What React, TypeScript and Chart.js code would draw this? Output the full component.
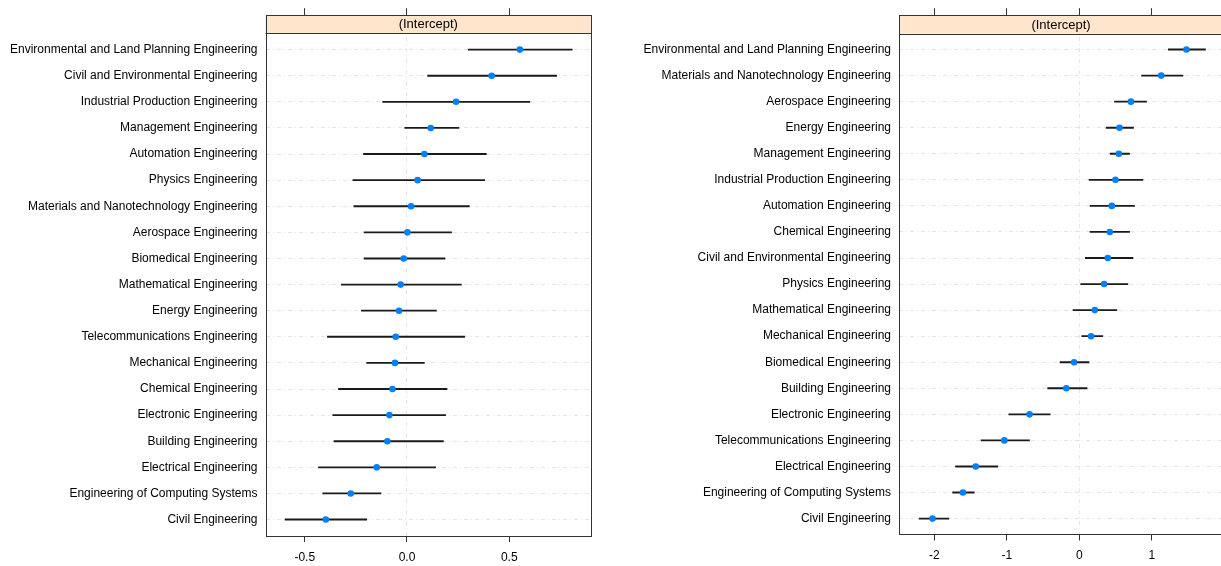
import React, { useEffect, useRef } from "react";
import { Chart, registerables } from "chart.js";

Chart.register(...registerables);

// ---------- DATA ----------
const leftCategories = [
  "Environmental and Land Planning Engineering",
  "Civil and Environmental Engineering",
  "Industrial Production Engineering",
  "Management Engineering",
  "Automation Engineering",
  "Physics Engineering",
  "Materials and Nanotechnology Engineering",
  "Aerospace Engineering",
  "Biomedical Engineering",
  "Mathematical Engineering",
  "Energy Engineering",
  "Telecommunications Engineering",
  "Mechanical Engineering",
  "Chemical Engineering",
  "Electronic Engineering",
  "Building Engineering",
  "Electrical Engineering",
  "Engineering of Computing Systems",
  "Civil Engineering",
];
const leftEstimate = [0.552, 0.414, 0.24, 0.116, 0.085, 0.052, 0.02, 0.002, -0.016, -0.031, -0.039, -0.055, -0.059, -0.071, -0.086, -0.096, -0.148, -0.275, -0.397];
const leftLower = [0.3, 0.101, -0.119, -0.011, -0.213, -0.265, -0.26, -0.21, -0.21, -0.321, -0.223, -0.389, -0.197, -0.335, -0.363, -0.357, -0.433, -0.412, -0.596];
const leftUpper = [0.808, 0.732, 0.601, 0.254, 0.388, 0.38, 0.305, 0.218, 0.186, 0.266, 0.144, 0.282, 0.085, 0.196, 0.189, 0.178, 0.14, -0.127, -0.197];

const rightCategories = [
  "Environmental and Land Planning Engineering",
  "Materials and Nanotechnology Engineering",
  "Aerospace Engineering",
  "Energy Engineering",
  "Management Engineering",
  "Industrial Production Engineering",
  "Automation Engineering",
  "Chemical Engineering",
  "Civil and Environmental Engineering",
  "Physics Engineering",
  "Mathematical Engineering",
  "Mechanical Engineering",
  "Biomedical Engineering",
  "Building Engineering",
  "Electronic Engineering",
  "Telecommunications Engineering",
  "Electrical Engineering",
  "Engineering of Computing Systems",
  "Civil Engineering",
];
const rightEstimate = [1.478, 1.13, 0.712, 0.554, 0.545, 0.499, 0.448, 0.42, 0.393, 0.342, 0.213, 0.162, -0.073, -0.18, -0.687, -1.035, -1.43, -1.607, -2.026];
const rightLower = [1.228, 0.859, 0.485, 0.37, 0.425, 0.134, 0.148, 0.148, 0.083, 0.019, -0.087, 0.033, -0.267, -0.437, -0.974, -1.357, -1.708, -1.749, -2.212];
const rightUpper = [1.741, 1.431, 0.928, 0.748, 0.693, 0.878, 0.762, 0.693, 0.74, 0.67, 0.518, 0.324, 0.134, 0.107, -0.402, -0.688, -1.126, -1.45, -1.8];

const stripLabel = "(Intercept)";
const leftTicks = { min: -0.692, max: 0.9, step: 0.5, digits: 1 };
const rightTicks = { min: -2.489, max: 1.983, step: 1, digits: 0 };

// ---------- STYLE ----------
const FONT = "'Liberation Sans', Arial, Helvetica, sans-serif";
const STRIP_BG = "#FFE5CC";
const BOX_COLOR = "#333333";
const GRID_COLOR = "#e4e4e4";
const POINT_COLOR = "#0080ff";

type PanelCfg = {
  categories: string[];
  est: number[];
  lo: number[];
  hi: number[];
  xr: { min: number; max: number; step: number; digits: number };
  yAxisWidth: number;
  padTop: number;
  padBottom: number;
  padRight: number;
  stripPx: number;
  rowPad: number;
  stripUnits: number;
};

const stripPlugin = {
  id: "stripBox",
  afterDraw(chart: any, _args: any, opts: any) {
    const { ctx, chartArea } = chart;
    const { left, right, top, bottom } = chartArea;
    const h = opts.stripPx;
    ctx.save();
    ctx.fillStyle = STRIP_BG;
    ctx.fillRect(left, top, right - left, h);
    ctx.strokeStyle = BOX_COLOR;
    ctx.lineWidth = 1;
    ctx.beginPath();
    ctx.moveTo(left, Math.round(top + h) + 0.5);
    ctx.lineTo(right, Math.round(top + h) + 0.5);
    ctx.stroke();
    ctx.strokeRect(Math.round(left) + 0.5, Math.round(top) + 0.5, Math.round(right - left) - 1, Math.round(bottom - top));
    ctx.fillStyle = "#000";
    ctx.font = `13px ${FONT}`;
    ctx.textAlign = "center";
    ctx.textBaseline = "middle";
    ctx.fillText(opts.text, (left + right) / 2, top + h / 2 + 0.5);
    ctx.restore();
  },
};

function makePanel(canvas: HTMLCanvasElement, p: PanelCfg) {
  const n = p.categories.length;
  const yMin = 1 - p.rowPad - p.stripUnits;
  const yMax = n + p.rowPad;
  const rows = p.categories.map((_, i) => i + 1);
  return new Chart(canvas, {
    type: "bar",
    data: {
      datasets: [
        {
          type: "line",
          data: rows.map((r, i) => ({ x: p.est[i], y: r })),
          showLine: false,
          pointStyle: "circle",
          pointRadius: 3.3,
          pointBackgroundColor: POINT_COLOR,
          pointBorderWidth: 0,
          order: 0,
        } as any,
        {
          type: "bar",
          indexAxis: "y",
          data: rows.map((r, i) => ({ x: [p.lo[i], p.hi[i]], y: r })),
          backgroundColor: "#1a1a1a",
          borderWidth: 0,
          barThickness: 1.2,
          grouped: false,
          order: 1,
        } as any,
      ],
    },
    options: {
      responsive: false,
      animation: false,
      events: [],
      layout: { padding: { top: p.padTop, bottom: p.padBottom, right: p.padRight, left: 0 } },
      plugins: {
        legend: { display: false },
        tooltip: { enabled: false },
        stripBox: { stripPx: p.stripPx, text: stripLabel },
      } as any,
      scales: {
        x: {
          type: "linear",
          position: "bottom",
          offset: false,
          min: p.xr.min,
          max: p.xr.max,
          afterFit: (axis: any) => {
            axis.height = 30;
          },
          ticks: {
            stepSize: p.xr.step,
            includeBounds: false,
            color: "#000",
            font: { family: FONT, size: 12 },
            padding: 8,
            callback: (v: any) => Number(v).toFixed(p.xr.digits),
          },
          grid: {
            offset: false,
            color: (ctx: any) => (ctx.tick && Math.abs(ctx.tick.value) < 1e-9 ? GRID_COLOR : "rgba(0,0,0,0)"),
            tickColor: BOX_COLOR,
            tickLength: 6,
            lineWidth: 1,
            drawTicks: true,
          },
          border: { display: false, dash: [4, 3, 1, 3] },
        },
        x2: {
          type: "linear",
          position: "top",
          offset: false,
          min: p.xr.min,
          max: p.xr.max,
          afterFit: (axis: any) => {
            axis.height = 7;
          },
          ticks: { stepSize: p.xr.step, includeBounds: false, display: false },
          grid: { offset: false, drawOnChartArea: false, tickColor: BOX_COLOR, tickLength: 7, drawTicks: true },
          border: { display: false },
        },
        y: {
          type: "linear",
          position: "left",
          offset: false,
          reverse: true,
          min: yMin,
          max: yMax,
          afterFit: (axis: any) => {
            axis.width = p.yAxisWidth;
          },
          afterBuildTicks: (axis: any) => {
            axis.ticks = rows.map((r) => ({ value: r }));
          },
          ticks: {
            color: "#000",
            font: { family: FONT, size: 12 },
            padding: 8,
            autoSkip: false,
            callback: (v: any) => p.categories[Math.round(Number(v)) - 1] ?? "",
          },
          grid: { offset: false, color: GRID_COLOR, drawTicks: false, lineWidth: 1 },
          border: { display: false, dash: [4, 3, 1, 3] },
        },
      } as any,
    },
    plugins: [stripPlugin],
  } as any);
}

export default function App() {
  const leftRef = useRef<HTMLCanvasElement>(null);
  const rightRef = useRef<HTMLCanvasElement>(null);

  useEffect(() => {
    const rowPx = 26.17;
    const c1 = makePanel(leftRef.current!, {
      categories: leftCategories,
      est: leftEstimate,
      lo: leftLower,
      hi: leftUpper,
      xr: leftTicks,
      yAxisWidth: 265.5,
      padTop: 7,
      padBottom: 0,
      padRight: 9,
      stripPx: 18,
      rowPad: 0.63,
      stripUnits: 18 / rowPx,
    });
    const c2 = makePanel(rightRef.current!, {
      categories: rightCategories,
      est: rightEstimate,
      lo: rightLower,
      hi: rightUpper,
      xr: rightTicks,
      yAxisWidth: 289,
      padTop: 6,
      padBottom: 1.5,
      padRight: 0,
      stripPx: 18.5,
      rowPad: 0.61,
      stripUnits: 18.5 / rowPx,
    });
    return () => {
      c1.destroy();
      c2.destroy();
    };
  }, []);

  return (
    <div
      style={{
        position: "absolute",
        left: 0,
        top: 0,
        width: 1221,
        height: 566,
        overflow: "hidden",
        background: "#fff",
      }}
    >
      <canvas
        ref={leftRef}
        width={600}
        height={566}
        style={{ position: "absolute", left: 0, top: 0, display: "block" }}
      />
      <canvas
        ref={rightRef}
        width={617}
        height={566}
        style={{ position: "absolute", left: 610, top: 0, display: "block" }}
      />
    </div>
  );
}
